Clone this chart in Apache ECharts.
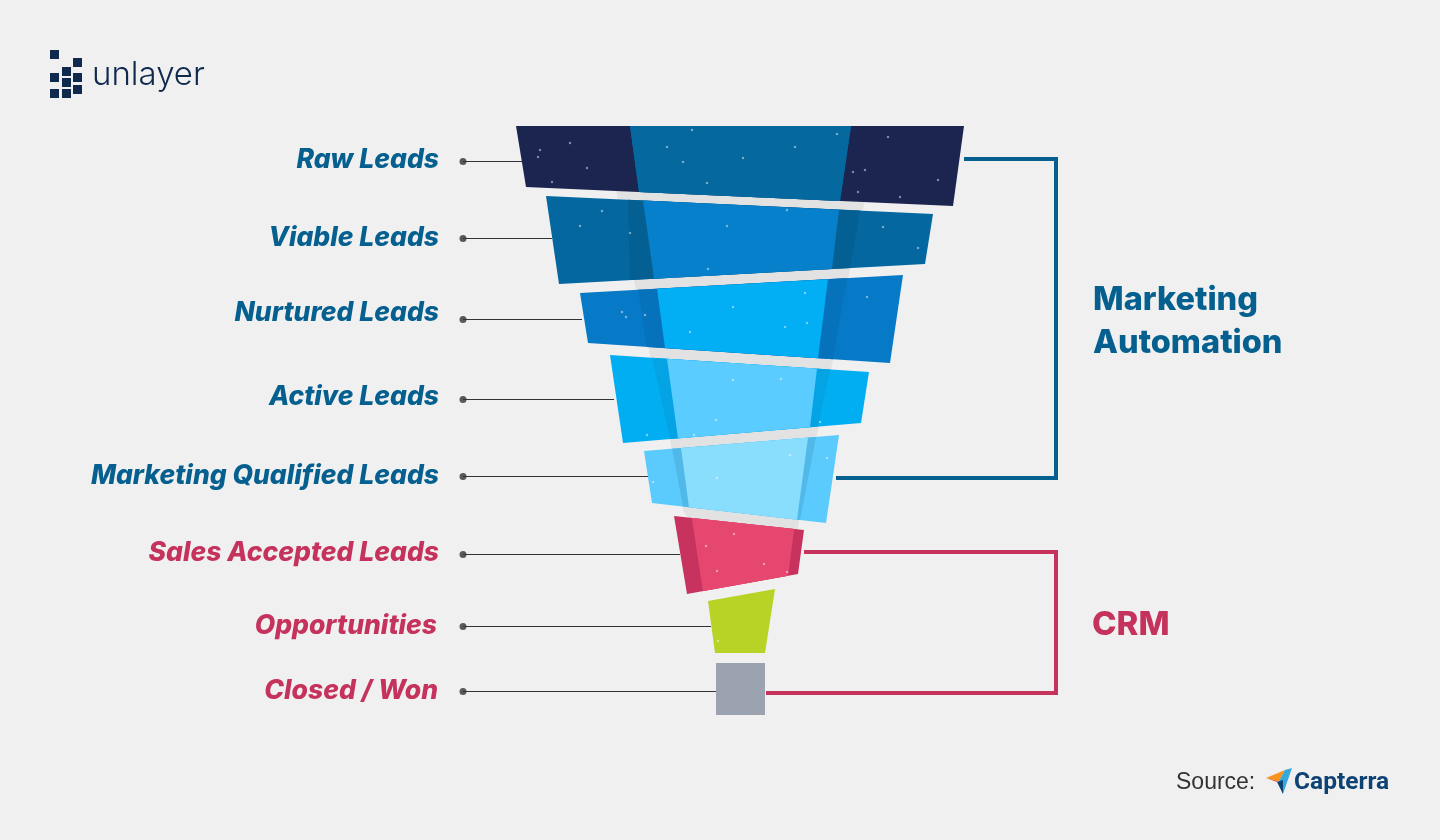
<!DOCTYPE html>
<html>
<head>
<meta charset="utf-8">
<title>Lead funnel</title>
<script src="https://cdn.jsdelivr.net/npm/echarts@6/dist/echarts.min.js"></script>
<style>
  html, body { margin: 0; padding: 0; background: #f0f0f1; }
  #chart { width: 1440px; height: 840px; }
</style>
</head>
<body>
<div id="chart"></div>
<script>
const stages = ["Raw Leads", "Viable Leads", "Nurtured Leads", "Active Leads", "Marketing Qualified Leads", "Sales Accepted Leads", "Opportunities", "Closed / Won"];

// outer edge of every funnel slice
const topLeftX = [516, 546, 580, 610, 644, 674, 708, 716];
const topLeftY = [126, 196, 293, 355, 451, 516, 601, 663];
const topRightX = [964, 933, 903, 869, 839, 804, 775, 765];
const topRightY = [126, 214, 275, 372, 435, 530, 589, 663];
const bottomRightX = [953, 925, 890, 861, 826, 798, 765, 765];
const bottomRightY = [206, 264, 363, 423, 523, 574, 653, 715];
const bottomLeftX = [526, 559, 588, 623, 652, 687, 715, 716];
const bottomLeftY = [187, 284, 343, 443, 503, 594, 653, 715];

// light centre band of each slice (x only, y follows the slanted edge)
const bandTopLeft = [630, 643, 657, 667, 681, 692];
const bandTopRight = [851, 839, 828, 817, 808, 794];
const bandBottomLeft = [639, 654, 665, 678, 689, 703];
const bandBottomRight = [840, 832, 818, 810, 797, 788];

// darker shadow next to the band
const shadeTopLeft = [630, 628, 638, 652, 672, 692];
const shadeTopRight = [851, 860, 847, 830, 816, 794];
const shadeBottomLeft = [639, 630, 647, 670, 683, 703];
const shadeBottomRight = [840, 850, 833, 818, 800, 788];

// grey beam showing through the gaps
const beamLeftX = [614, 635, 649, 670, 683, 692];
const beamLeftY = [180, 285, 350, 440, 510, 525];
const beamRightX = [866, 850, 833, 818, 799, 797];
const beamRightY = [195, 270, 360, 430, 520, 535];

// leader lines
const leaderY = [161.5, 238.5, 319.5, 399.5, 476.5, 554.5, 626.5, 691.5];
const leaderEndX = [522, 552, 582, 614, 648, 680, 711, 716];
const labelY = [160, 238, 313, 397, 476, 553, 626, 691];
const labelEndX = [439, 439, 439, 439, 439, 439, 437, 438];

// brackets
const marketingBracket = [[964, 159], [1056, 159], [1056, 478], [836, 478]];
const crmBracket = [[804, 552], [1056, 552], [1056, 693], [766, 693]];

// white specks on the slices
const speckX = [552, 540, 570, 587, 538, 888, 865, 853, 938, 858, 900, 795, 743, 837, 707, 667, 683, 692, 602, 630, 787, 708, 883, 918, 727, 580, 785, 622, 645, 626, 733, 690, 867, 805, 807, 733, 781, 716, 717, 827, 653, 647, 820, 694, 790, 717, 764, 706, 734, 787, 718];
const speckY = [182, 150, 143, 168, 157, 137, 170, 172, 180, 192, 197, 147, 158, 134, 183, 147, 162, 130, 211, 233, 210, 269, 227, 248, 226, 226, 327, 312, 315, 317, 307, 332, 297, 293, 323, 380, 379, 420, 478, 458, 482, 435, 422, 435, 455, 571, 564, 546, 534, 572, 641];

const outerColors = ["#1b2550", "#04679f", "#0679c7", "#02aef2", "#5acbfc", "#c8325e", "#b9d226", "#9ba3b0"];
const shadeColors = ["#05699f", "#045f92", "#0672bc", "#04a4e4", "#50b9e9", "#e5476f"];
const bandColors = ["#05699f", "#0680cb", "#02aef4", "#5accff", "#89defe", "#e5476f"];

const BLUE = "#05608f";
const RED = "#c5335c";
const LABEL_FONT = "Inter";

// y on a slanted edge of slice i for a given x
function edgeY(x, x0, y0, x1, y1) {
  return y0 + (y1 - y0) * (x - x0) / (x1 - x0);
}

function quad(api, points, fill) {
  return {
    type: "polygon",
    shape: { points: points.map((p) => api.coord(p)) },
    style: { fill: fill },
  };
}

function innerQuad(i, tl, tr, bl, br) {
  const top = (x) => edgeY(x, topLeftX[i], topLeftY[i], topRightX[i], topRightY[i]);
  const bot = (x) => edgeY(x, bottomLeftX[i], bottomLeftY[i], bottomRightX[i], bottomRightY[i]);
  return [[tl[i], top(tl[i])], [tr[i], top(tr[i])], [br[i], bot(br[i])], [bl[i], bot(bl[i])]];
}

function renderSlice(params, api) {
  const i = api.value(0);
  const children = [
    quad(api, [[topLeftX[i], topLeftY[i]], [topRightX[i], topRightY[i]], [bottomRightX[i], bottomRightY[i]], [bottomLeftX[i], bottomLeftY[i]]], outerColors[i]),
  ];
  if (i < bandColors.length) {
    children.push(quad(api, innerQuad(i, shadeTopLeft, shadeTopRight, shadeBottomLeft, shadeBottomRight), shadeColors[i]));
    children.push(quad(api, innerQuad(i, bandTopLeft, bandTopRight, bandBottomLeft, bandBottomRight), bandColors[i]));
  }
  return { type: "group", children: children };
}

function renderBeam(params, api) {
  const pts = [];
  beamLeftX.forEach((x, i) => pts.push([x, beamLeftY[i]]));
  for (let i = beamRightX.length - 1; i >= 0; i--) pts.push([beamRightX[i], beamRightY[i]]);
  return quad(api, pts, "#e2e2e2");
}

function renderLabel(params, api) {
  const i = api.value(0);
  const p = api.coord([labelEndX[i], labelY[i]]);
  return {
    type: "text",
    x: p[0],
    y: p[1],
    style: {
      text: stages[i],
      fill: i < 5 ? BLUE : RED,
      font: "italic 800 26.5px " + LABEL_FONT,
      align: "right",
      verticalAlign: "middle",
    },
  };
}

const indexData = stages.map((s, i) => [i]);

const logoSquares = [[50, 50], [73, 58], [62, 67], [50, 73], [62, 78], [73, 73], [50, 89], [62, 89], [73, 85]];

const chart = echarts.init(document.getElementById("chart"));
chart.setOption({
  backgroundColor: "#f0f0f1",
  animation: false,
  grid: { left: 0, right: 0, top: 0, bottom: 0 },
  xAxis: { type: "value", min: 0, max: 1440, show: false },
  yAxis: { type: "value", min: 0, max: 840, inverse: true, show: false },
  series: [
    { type: "custom", silent: true, z: 1, data: [[0]], renderItem: renderBeam },
    { type: "custom", silent: true, z: 2, data: indexData, renderItem: renderSlice },
    {
      type: "scatter",
      silent: true,
      z: 3,
      symbolSize: 2.5,
      itemStyle: { color: "#ffffff", opacity: 0.45 },
      data: speckX.map((x, i) => [x, speckY[i]]),
    },
    // leader lines and their dots
    ...stages.map((s, i) => ({
      type: "line",
      silent: true,
      z: 4,
      symbol: "none",
      lineStyle: { color: "#333333", width: 1 },
      data: [[463, leaderY[i]], [leaderEndX[i], leaderY[i]]],
    })),
    {
      type: "scatter",
      silent: true,
      z: 5,
      symbolSize: 7,
      itemStyle: { color: "#333333" },
      data: leaderY.map((y) => [463, y]),
    },
    { type: "custom", silent: true, z: 6, data: indexData, renderItem: renderLabel },
    {
      type: "line",
      silent: true,
      z: 4,
      symbol: "none",
      lineStyle: { color: BLUE, width: 4, join: "miter" },
      data: marketingBracket,
    },
    {
      type: "line",
      silent: true,
      z: 4,
      symbol: "none",
      lineStyle: { color: RED, width: 4, join: "miter" },
      data: crmBracket,
    },
  ],
  graphic: [
    ...logoSquares.map((p) => ({
      type: "rect",
      shape: { x: p[0], y: p[1], width: 9, height: 9 },
      style: { fill: "#0f2a4d" },
    })),
    { type: "text", x: 92, y: 75, style: { text: "unlayer", fill: "#0f2a4d", font: "300 33px Inter", verticalAlign: "middle" } },
    { type: "text", x: 1093, y: 300, style: { text: "Marketing", fill: BLUE, font: "800 32.5px Inter", verticalAlign: "middle" } },
    { type: "text", x: 1093, y: 343, style: { text: "Automation", fill: BLUE, font: "800 32.5px Inter", verticalAlign: "middle" } },
    { type: "text", x: 1092, y: 625, style: { text: "CRM", fill: RED, font: "800 33px Inter", verticalAlign: "middle" } },
    { type: "text", x: 1176, y: 783, style: { text: "Source:", fill: "#333333", font: "400 23px 'Liberation Sans'", verticalAlign: "middle" } },
    { type: "polygon", shape: { points: [[1266, 778], [1285, 770], [1279, 781]] }, style: { fill: "#f7941d" } },
    { type: "polygon", shape: { points: [[1266, 778], [1279, 781], [1277, 782]] }, style: { fill: "#e4572e" } },
    { type: "polygon", shape: { points: [[1285, 770], [1292, 768], [1283, 794], [1279, 781]] }, style: { fill: "#35a8dc" } },
    { type: "polygon", shape: { points: [[1277, 782], [1283, 780], [1283, 794]] }, style: { fill: "#0d4273" } },
    { type: "text", x: 1294, y: 783, style: { text: "Capterra", fill: "#0d4273", font: "700 24.5px Roboto", verticalAlign: "middle" } },
  ],
});
</script>
</body>
</html>
